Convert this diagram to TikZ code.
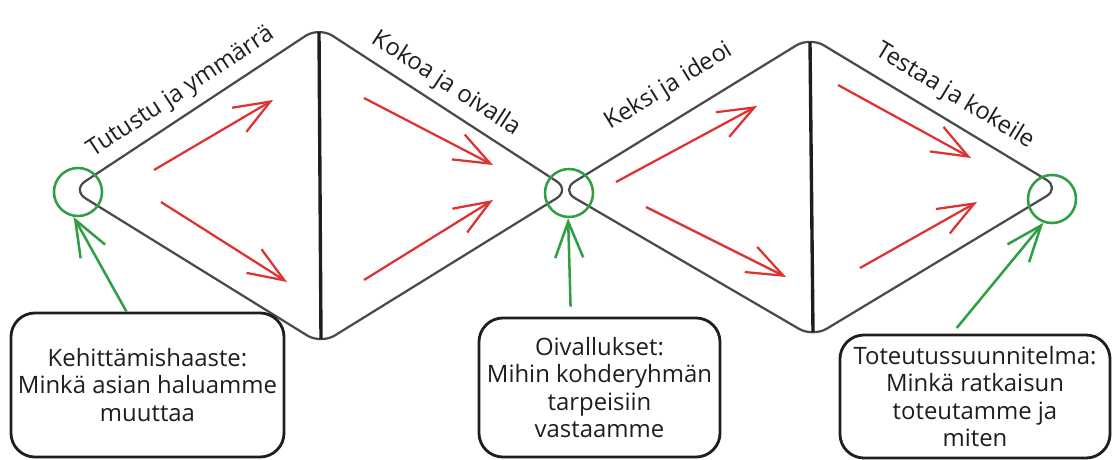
\documentclass[tikz,border=0pt]{standalone}
\usepackage{fontspec}
\setmainfont{Open Sans}
\usetikzlibrary{arrows.meta}
\definecolor{viiva}{HTML}{4A4A4A}
\definecolor{musta}{HTML}{1E1E1E}
\definecolor{puna}{HTML}{E03131}
\definecolor{viher}{HTML}{2F9E44}
\begin{document}
\begin{tikzpicture}[x=0.025cm, y=-0.025cm,
        reuna/.style={draw=viiva, line width=1.6pt, rounded corners=4mm},
        keskiviiva/.style={draw=musta, line width=2.4pt},
        punanuoli/.style={draw=puna, line width=1.6pt, -{Straight Barb[length=9mm,width=7mm]}},
        vihernuoli/.style={draw=viher, line width=1.8pt, -{Straight Barb[length=9mm,width=7mm]}},
        viherpiste/.style={circle, draw=viher, line width=1.8pt, minimum size=1.2cm, inner sep=0pt},
        laatikko/.style={draw=musta, line width=2pt, rounded corners=6mm, align=center, text=musta, font=\fontsize{17}{19.5}\selectfont},
        otsikko/.style={text=musta, font=\fontsize{17}{20}\selectfont, sloped, above=4pt, inner sep=2pt}]
    \useasboundingbox (0,0) rectangle (1120,460);
    % timantit
    \draw[reuna] (72,190) --
        node[otsikko, pos=0.49] {Tutustu ja ymmärrä} (319,27) --
        node[otsikko, pos=0.46] {Kokoa ja oivalla} (570,190) --
        (321,344) -- cycle;
    \draw[keskiviiva] (319,32) -- (321,339);
    \draw[reuna] (561,190) --
        node[otsikko, pos=0.5, above=7pt] {Keksi ja ideoi} (810,37) --
        node[otsikko, pos=0.53, above=2pt] {Testaa ja kokeile} (1060,188) --
        (813,337) -- cycle;
    \draw[keskiviiva] (810,42) -- (813,332);
    % punaiset nuolet
    \foreach \xa/\ya/\xb/\yb in {154/170/273/100, 161/202/287/282, 364/98/493/165, 364/280/493/200,
                                 616/182/757/106, 646/207/786/277, 838/85/971/158, 860/268/977/202}
        \draw[punanuoli] (\xa,\ya) -- (\xb,\yb);
    % pisteet
    \node[viherpiste] (alku) at (78,192) {};
    \node[viherpiste] (keski) at (569,193) {};
    \node[viherpiste] (loppu) at (1052,199) {};
    % laatikot
    \node[laatikko, minimum width=6.825cm, minimum height=3.6cm] (haaste) at (147.5,385)
        {Kehittämishaaste:\\Minkä asian haluamme\\muuttaa};
    \node[laatikko, minimum width=6.025cm, minimum height=3.475cm] (oivallukset) at (599.5,387.5)
        {Oivallukset:\\Mihin kohderyhmän\\tarpeisiin\\vastaamme};
    \node[laatikko, minimum width=6.75cm, minimum height=3.075cm] (toteutus) at (975,396.5)
        {Toteutussuunnitelma:\\Minkä ratkaisun\\toteutamme ja\\miten};
    \draw[vihernuoli] (haaste.106) -- (alku.260);
    \draw[vihernuoli, shorten <=2.5mm] (oivallukset.112) -- (keski.268);
    \draw[vihernuoli, shorten <=1.8mm] (toteutus.110) -- (loppu.250);
\end{tikzpicture}
\end{document}
